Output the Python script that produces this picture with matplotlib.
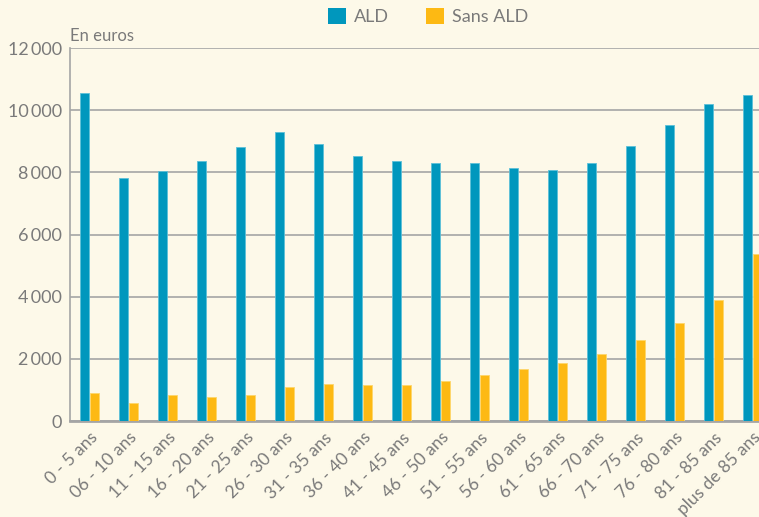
import numpy as np
import matplotlib.pyplot as plt
from matplotlib.patches import Patch
from matplotlib.ticker import FuncFormatter

# tranches d'age
categories = ["0 - 5 ans", "06 - 10 ans", "11 - 15 ans", "16 - 20 ans", "21 - 25 ans",
              "26 - 30 ans", "31 - 35 ans", "36 - 40 ans", "41 - 45 ans", "46 - 50 ans",
              "51 - 55 ans", "56 - 60 ans", "61 - 65 ans", "66 - 70 ans", "71 - 75 ans",
              "76 - 80 ans", "81 - 85 ans", "plus de 85 ans"]

ald = [10540, 7820, 8040, 8360, 8810, 9310, 8900, 8510, 8350, 8290,
       8300, 8130, 8060, 8300, 8840, 9530, 10200, 10500]
sans_ald = [900, 570, 836, 765, 826, 1100, 1200, 1150, 1165, 1300,
            1480, 1675, 1850, 2140, 2610, 3160, 3890, 5370]

yticks = [0, 2000, 4000, 6000, 8000, 10000, 12000]

BG = "#fdf9e9"
BLUE = "#0097bd"
YELLOW = "#fdb913"
TXT = "#7a7a7a"
GRID = "#a5a5a5"

plt.rcParams['font.family'] = ['Lato', 'DejaVu Sans']

fig = plt.figure(figsize=(7.59, 5.17), dpi=100, facecolor=BG)
ax = fig.add_axes([70 / 759, 96 / 517, 1 - 70 / 759, 373 / 517], facecolor=BG)

x = np.arange(len(categories))
w = 0.235
ax.bar(x - 0.128, ald, width=w, color=BLUE, edgecolor="#5cc0d8", linewidth=0.6, zorder=3)
ax.bar(x + 0.128, sans_ald, width=w, color=YELLOW, edgecolor="#fdd66a", linewidth=0.6, zorder=3)

ax.set_xlim(-0.5, 17.17)
ax.set_ylim(0, 12000)
ax.set_yticks(yticks)
ax.yaxis.set_major_formatter(FuncFormatter(lambda v, p: f"{int(v):,}".replace(",", "\u2009")))
ax.grid(axis='y', color=GRID, linewidth=1.2, zorder=0)
ax.set_axisbelow(True)

ax.set_xticks(x)
ax.set_xticklabels(categories, rotation=45, ha='right', rotation_mode='anchor')
ax.tick_params(axis='x', length=0, pad=6, labelsize=12.5, labelcolor=TXT)
ax.tick_params(axis='y', length=0, pad=6, labelsize=13, labelcolor=TXT)

for s in ['top', 'right']:
    ax.spines[s].set_visible(False)
ax.spines['left'].set_color(GRID)
ax.spines['left'].set_linewidth(1.2)
ax.spines['bottom'].set_color(GRID)
ax.spines['bottom'].set_linewidth(2)

ax.text(0, 1.012, "En euros", transform=ax.transAxes, fontsize=12, color=TXT,
        ha='left', va='bottom')

handles = [Patch(facecolor=BLUE, label="ALD"), Patch(facecolor=YELLOW, label="Sans ALD")]
fig.legend(handles=handles, loc='center', bbox_to_anchor=(0.564, 0.968), ncol=2,
           frameon=False, fontsize=13, labelcolor=TXT, handlelength=1.0, handleheight=1.0,
           handletextpad=0.4, columnspacing=2.1)

fig.savefig("out.png", dpi=100, facecolor=BG)
